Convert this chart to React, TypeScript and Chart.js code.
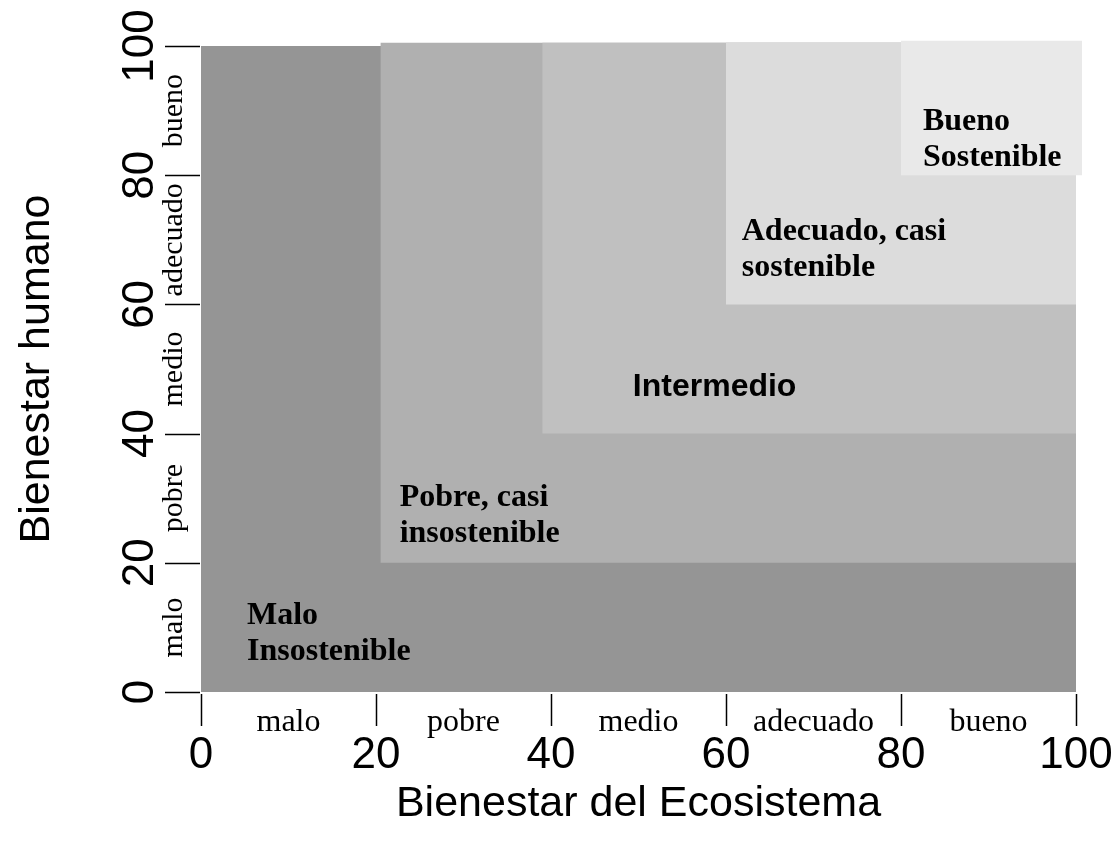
import React, { useEffect, useRef } from "react";
import { Chart, registerables } from "chart.js";

Chart.register(...registerables);

// ---- data ----
const xTickValues = [0, 20, 40, 60, 80, 100];
const yTickValues = [0, 20, 40, 60, 80, 100];
const xCategoryLabels = ["malo", "pobre", "medio", "adecuado", "bueno"];
const yCategoryLabels = ["malo", "pobre", "medio", "adecuado", "bueno"];

const zoneXStart = [0, 20.5, 39, 60, 80];
const zoneXEnd = [100, 100, 100, 100, 100.7];
const zoneYStart = [0, 20, 40, 60, 80];
const zoneYEnd = [100, 100.5, 100.5, 100.5, 100.8];
const zoneColors = ["#959595", "#b0b0b0", "#c0c0c0", "#dcdcdc", "#e9e9e9"];
const zoneLabelLines = [
  ["Malo", "Insostenible"],
  ["Pobre, casi", "insostenible"],
  ["Intermedio"],
  ["Adecuado, casi", "sostenible"],
  ["Bueno", "Sostenible"],
];
// label anchor (data units): x = left edge (or centre), y = first baseline
const zoneLabelX = [5.26, 22.7, 58.7, 61.8, 82.5];
const zoneLabelY = [10.5, 28.8, 45.8, 70.0, 87.0];
const zoneLabelAlign = ["left", "left", "center", "left", "left"];
const zoneLabelSans = [false, false, true, false, false];

const xTitle = "Bienestar del Ecosistema";
const yTitle = "Bienestar humano";

const SERIF = "'Liberation Serif', 'Times New Roman', serif";
const SANS = "'Liberation Sans', Arial, sans-serif";

const decorPlugin = {
  id: "decor",
  afterDatasetsDraw(chart: any) {
    const ctx = chart.ctx;
    const xs = chart.scales.x;
    const ys = chart.scales.y;
    ctx.save();
    ctx.fillStyle = "#000";
    ctx.textBaseline = "alphabetic";
    for (let i = 0; i < zoneLabelLines.length; i++) {
      const px = xs.getPixelForValue(zoneLabelX[i]);
      const py = ys.getPixelForValue(zoneLabelY[i]);
      ctx.font = zoneLabelSans[i] ? `bold 32px ${SANS}` : `bold 32px ${SERIF}`;
      ctx.textAlign = zoneLabelAlign[i];
      zoneLabelLines[i].forEach((t, k) => ctx.fillText(t, px, py + k * 36));
    }
    ctx.restore();
  },
  afterDraw(chart: any) {
    const ctx = chart.ctx;
    const xs = chart.scales.x;
    const ys = chart.scales.y;
    const y0 = ys.getPixelForValue(0);
    const x0 = xs.getPixelForValue(0);
    const xMid = (xs.getPixelForValue(0) + xs.getPixelForValue(100)) / 2;
    const yMid = (ys.getPixelForValue(0) + ys.getPixelForValue(100)) / 2;
    ctx.save();
    ctx.strokeStyle = "#000";
    ctx.fillStyle = "#000";
    ctx.lineWidth = 1.5;

    // y axis tick marks
    yTickValues.forEach((v) => {
      const py = Math.round(ys.getPixelForValue(v)) + 0.5;
      ctx.beginPath();
      ctx.moveTo(x0 - 36, py);
      ctx.lineTo(x0 - 1, py);
      ctx.stroke();
    });
    // x axis tick marks
    xTickValues.forEach((v) => {
      const px = Math.round(xs.getPixelForValue(v)) + 0.5;
      ctx.beginPath();
      ctx.moveTo(px, y0 + 2);
      ctx.lineTo(px, y0 + 34);
      ctx.stroke();
    });

    // x category labels
    ctx.textAlign = "center";
    ctx.textBaseline = "alphabetic";
    ctx.font = `32px ${SERIF}`;
    xCategoryLabels.forEach((t, i) => {
      const px = (xs.getPixelForValue(xTickValues[i]) + xs.getPixelForValue(xTickValues[i + 1])) / 2;
      ctx.fillText(t, px, y0 + 39);
    });
    // x numbers
    ctx.font = `44px ${SANS}`;
    xTickValues.forEach((v) => {
      ctx.fillText(String(v), xs.getPixelForValue(v), y0 + 76);
    });
    // x title
    ctx.font = `43px ${SANS}`;
    ctx.fillText(xTitle, xMid, y0 + 124);

    // y category labels (rotated)
    ctx.font = `30px ${SERIF}`;
    yCategoryLabels.forEach((t, i) => {
      const py = (ys.getPixelForValue(yTickValues[i]) + ys.getPixelForValue(yTickValues[i + 1])) / 2;
      ctx.save();
      ctx.translate(x0 - 19, py);
      ctx.rotate(-Math.PI / 2);
      ctx.fillText(t, 0, 0);
      ctx.restore();
    });
    // y numbers (rotated)
    ctx.font = `44px ${SANS}`;
    yTickValues.forEach((v) => {
      const py = ys.getPixelForValue(v);
      ctx.save();
      ctx.translate(x0 - 48, py);
      ctx.rotate(-Math.PI / 2);
      ctx.fillText(String(v), 0, 0);
      ctx.restore();
    });
    // y title
    ctx.font = `43px ${SANS}`;
    ctx.save();
    ctx.translate(x0 - 152, yMid);
    ctx.rotate(-Math.PI / 2);
    ctx.fillText(yTitle, 0, 0);
    ctx.restore();

    ctx.restore();
  },
};

export default function App() {
  const ref = useRef<HTMLCanvasElement | null>(null);
  useEffect(() => {
    if (!ref.current) return;
    const datasets = zoneColors.map((c, i) => ({
      type: "line" as const,
      label: zoneLabelLines[i].join(" "),
      data: [
        { x: zoneXStart[i], y: zoneYEnd[i] },
        { x: zoneXEnd[i], y: zoneYEnd[i] },
      ],
      fill: { value: zoneYStart[i] },
      backgroundColor: c,
      borderColor: c,
      borderWidth: 0,
      pointRadius: 0,
      tension: 0,
      order: zoneColors.length - i,
      clip: false as any,
    }));
    const chart = new Chart(ref.current, {
      type: "line",
      data: { datasets },
      options: {
        animation: false,
        responsive: false,
        events: [],
        layout: { padding: { left: 201, right: 26.25, top: 39.54, bottom: 152 } },
        plugins: {
          legend: { display: false },
          tooltip: { enabled: false },
          filler: { propagate: false },
        },
        scales: {
          x: { type: "linear", min: 0, max: 101, display: false },
          y: { type: "linear", min: 0, max: 101, display: false },
        },
      },
      plugins: [decorPlugin],
    });
    return () => chart.destroy();
  }, []);
  return (
    <div style={{ position: "absolute", left: 0, top: 0, width: 1111, height: 844, background: "#fff" }}>
      <canvas ref={ref} width={1111} height={844} style={{ display: "block" }} />
    </div>
  );
}
